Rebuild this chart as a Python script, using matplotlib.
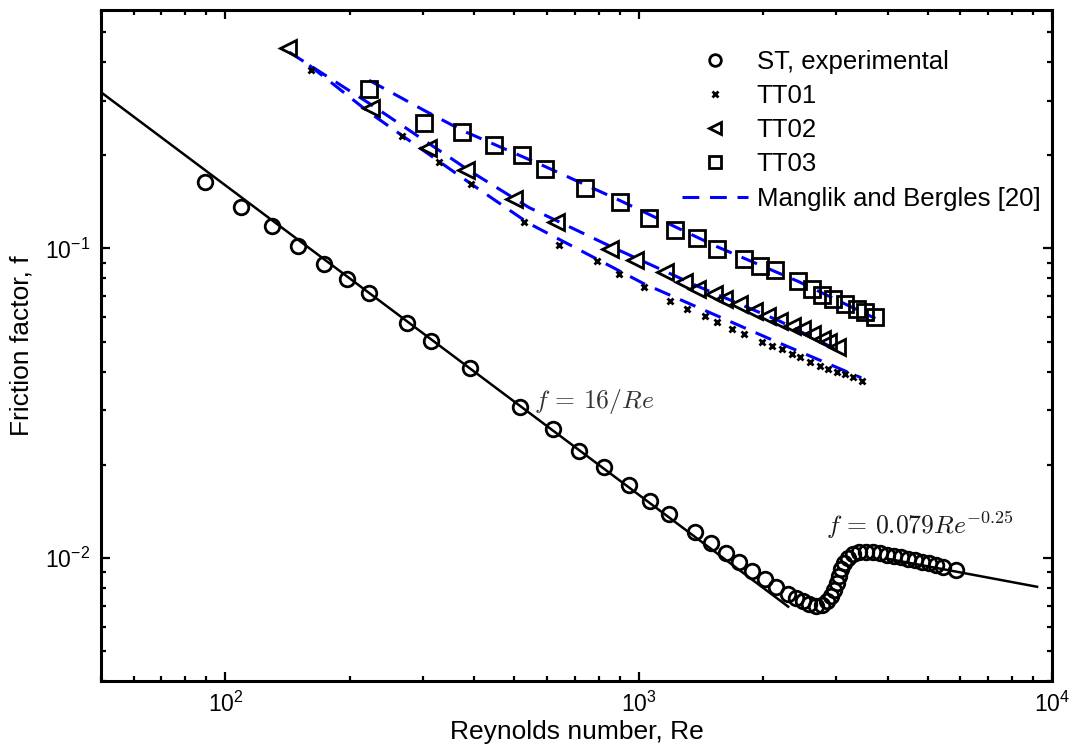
import matplotlib
matplotlib.use("Agg")
import matplotlib.pyplot as plt
import numpy as np

plt.rcParams['font.family'] = ['Liberation Sans', 'DejaVu Sans']
plt.rcParams['mathtext.fontset'] = 'cm'

# ST, experimental (smooth tube)
re_st = [89.5, 109.1, 129.7, 149.5, 173.4, 197.4, 222.7, 275.6, 313.6, 390,
         515, 620, 719, 826, 949.5, 1067, 1186, 1371, 1496, 1627,
         1744, 1878, 2021, 2154, 2303, 2408, 2503, 2588, 2691, 2783,
         2861, 2926, 2975, 3025, 3059, 3093, 3145, 3215, 3306, 3418,
         3554, 3695, 3842, 3994, 4153, 4318, 4489, 4667, 4853, 5045,
         5246, 5454, 5863]
f_st = [0.1639, 0.1360, 0.1178, 0.1017, 0.0892, 0.0798, 0.0717, 0.0576, 0.0504, 0.0410,
        0.0308, 0.0261, 0.0222, 0.0196, 0.01722, 0.01529, 0.01384, 0.01216, 0.01114, 0.01034,
        0.00971, 0.00908, 0.00855, 0.00806, 0.00765, 0.00742, 0.00726, 0.00710, 0.00699, 0.00705,
        0.00726, 0.00753, 0.00788, 0.00830, 0.00874, 0.00921, 0.00964, 0.01000, 0.01030, 0.01042,
        0.01045, 0.01042, 0.01034, 0.01023, 0.01015, 0.01004, 0.00993, 0.00981, 0.00971, 0.00960,
        0.00949, 0.00935, 0.00915]

# TT01
re_tt01 = [161.1, 268.1, 328.8, 392.2, 527.6, 641, 792, 894.6, 1028, 1193,
           1309, 1443, 1546, 1680, 1793, 1986, 2099, 2219, 2346, 2459,
           2598, 2748, 2877, 3013, 3157, 3306, 3463]
f_tt01 = [0.3786, 0.2304, 0.1902, 0.1620, 0.1216, 0.1030, 0.0908, 0.0828, 0.0753, 0.0679,
          0.0638, 0.0607, 0.0577, 0.0550, 0.0530, 0.0497, 0.0485, 0.0474, 0.0456, 0.0445,
          0.0429, 0.0418, 0.0408, 0.0398, 0.0393, 0.0383, 0.0374]

# TT02
re_tt02 = [141.4, 224.8, 309.8, 381.4, 499, 629.3, 854.4, 981.7, 1160, 1284,
           1383, 1518, 1605, 1744, 1896, 2041, 2179, 2346, 2480, 2622,
           2773, 2877, 3013]
f_tt02 = [0.446, 0.2852, 0.2118, 0.1788, 0.1448, 0.1216, 0.0998, 0.0915, 0.0838, 0.0778,
          0.0741, 0.0714, 0.0688, 0.0662, 0.0630, 0.0607, 0.0585, 0.0563, 0.0550, 0.0530,
          0.0510, 0.0497, 0.0479]

# TT03
re_tt03 = [222.7, 302.5, 373.1, 446.5, 522.6, 592.9, 743.4, 899.8, 1057, 1226,
           1383, 1546, 1793, 1968, 2139, 2435, 2622, 2773, 2958, 3157,
           3368, 3528, 3737]
f_tt03 = [0.3286, 0.2543, 0.2378, 0.2155, 0.2000, 0.1811, 0.1572, 0.1409, 0.1257, 0.1149,
          0.1083, 0.0998, 0.0926, 0.0881, 0.0849, 0.0788, 0.0741, 0.0705, 0.0688, 0.0662,
          0.0638, 0.0622, 0.0599]

# Manglik and Bergles correlation, one curve per tape
re_mb01 = [159.6, 222.7, 388.5, 542.5, 1028, 2120, 3456]
f_mb01 = [0.391, 0.2754, 0.1635, 0.1205, 0.0770, 0.0504, 0.0382]
re_mb02 = [142.8, 222.7, 388.5, 542.5, 855.9, 1396, 2179, 3042]
f_mb02 = [0.4309, 0.2946, 0.1788, 0.1357, 0.1015, 0.0753, 0.0585, 0.0468]
re_mb03 = [222.7, 302.5, 373.8, 592.9, 899.8, 1543, 2435, 3737]
f_mb03 = [0.3497, 0.2796, 0.2409, 0.1842, 0.1430, 0.1015, 0.0782, 0.0594]

# laminar and turbulent reference lines
re_lam = np.array([50, 2300])
re_turb = np.array([4000, 9200])

fig = plt.figure(figsize=(10.81, 7.52), dpi=100)
ax = fig.add_axes([0.0934, 0.0944, 0.8798, 0.8923])
ax.set_xscale('log')
ax.set_yscale('log')

ax.plot(re_lam, 16 / re_lam, color='k', lw=1.8)
ax.plot(re_turb, 0.079 * re_turb ** -0.25, color='k', lw=1.8)

dash = (0, (5.5, 3.5))
ax.plot(re_mb01, f_mb01, color='#0000ff', lw=2.2, ls=dash)
ax.plot(re_mb02, f_mb02, color='#0000ff', lw=2.2, ls=dash)
ax.plot(re_mb03, f_mb03, color='#0000ff', lw=2.2, ls=dash)

h_st, = ax.plot(re_st, f_st, 'o', mfc='none', mec='k', ms=10.5, mew=2)
h1, = ax.plot(re_tt01, f_tt01, 'x', color='k', ms=5, mew=2)
h2, = ax.plot(re_tt02, f_tt02, '<', mfc='none', mec='k', ms=11, mew=2)
h3, = ax.plot(re_tt03, f_tt03, 's', mfc='none', mec='k', ms=11, mew=2)
hmb, = ax.plot([], [], color='#0000ff', lw=2.2, ls=dash)

ax.set_xlim(50, 1e4)
ax.set_ylim(0.004, 0.59)

ax.text(557, 0.0306, r'$f\,=\,16/Re$', fontsize=18.5, color='0.2', ha='left', va='baseline')
ax.text(2845, 0.01196, r'$f\,=\,0.079Re^{-0.25}$', fontsize=18.5, color='0.1',
        ha='left', va='baseline')

for s in ax.spines.values():
    s.set_linewidth(2.2)
ax.tick_params(which='both', direction='in', top=True, right=True, width=1.6, labelsize=16.5, pad=8)
ax.tick_params(which='major', length=6.5)
ax.tick_params(which='minor', length=3.5)

ax.set_xlabel('Reynolds number, Re', fontsize=19, labelpad=2)
ax.set_ylabel('Friction factor, f', fontsize=19, labelpad=8)

ax.legend([h_st, h1, h2, h3, hmb],
          ['ST, experimental', 'TT01', 'TT02', 'TT03', 'Manglik and Bergles [20]'],
          loc='upper left', bbox_to_anchor=(0.631, 0.934), bbox_transform=fig.transFigure,
          frameon=False, fontsize=18.5, markerscale=0.8, handlelength=2.55,
          handletextpad=0.35, labelspacing=0.4, borderpad=0, borderaxespad=0)

fig.savefig('out.png', dpi=100)
